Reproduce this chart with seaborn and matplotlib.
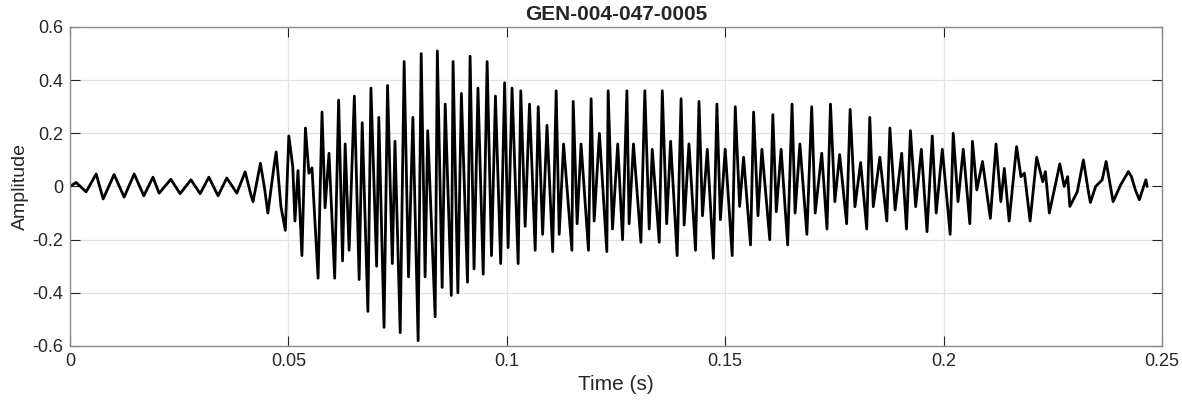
import numpy as np
import pandas as pd
import seaborn as sns
import matplotlib.pyplot as plt

# waveform extrema (time in ms, amplitude)
time_ms = [
    0.0, 1.4, 3.7, 6.0, 7.6, 10.1, 12.4, 14.7, 16.9, 19.0,
    20.4, 23.1, 25.2, 27.7, 29.8, 31.8, 33.9, 35.9, 38.2, 40.1,
    41.4, 41.9, 43.6, 44.6, 45.3, 46.7, 47.2, 48.3, 49.3, 50.1,
    51.0, 51.5, 52.2, 53.1, 53.9, 54.7, 55.4, 56.8, 57.7, 58.4,
    59.3, 60.6, 61.5, 62.4, 63.0, 63.9, 65.1, 66.2, 66.9, 68.2,
    68.9, 70.2, 70.7, 71.9, 72.7, 73.8, 74.4, 75.6, 76.5, 77.5,
    78.5, 79.7, 80.4, 81.3, 81.9, 83.6, 84.1, 85.2, 85.9, 87.3,
    87.7, 88.8, 89.6, 91.0, 91.6, 92.5, 93.4, 94.6, 95.5, 96.5,
    97.4, 98.6, 99.5, 100.3, 101.2, 102.6, 103.2, 104.2, 105.2, 106.5,
    107.2, 108.2, 109.2, 110.5, 111.3, 112.0, 113.0, 114.9, 115.2, 116.1,
    117.0, 118.7, 119.3, 120.0, 121.2, 122.9, 123.2, 124.2, 125.4, 126.5,
    127.5, 128.0, 129.0, 130.7, 131.6, 132.6, 133.3, 134.9, 135.6, 136.6,
    137.5, 139.0, 139.9, 140.6, 141.7, 143.2, 144.0, 144.8, 145.9, 147.3,
    148.1, 148.9, 150.0, 151.6, 152.3, 153.3, 154.2, 155.8, 156.5, 157.5,
    158.4, 160.2, 160.9, 161.7, 162.8, 164.3, 165.3, 166.0, 167.1, 168.7,
    169.8, 170.6, 172.1, 173.3, 174.1, 175.1, 176.2, 177.8, 178.6, 179.7,
    181.0, 182.4, 183.1, 183.9, 185.4, 187.0, 187.7, 188.9, 190.4, 191.5,
    192.4, 193.6, 194.9, 196.2, 197.4, 198.3, 199.7, 201.5, 202.2, 203.3,
    204.5, 206.0, 206.6, 207.6, 208.9, 210.7, 212.0, 213.1, 213.9, 215.0,
    216.7, 217.7, 218.5, 219.8, 221.3, 222.7, 223.3, 224.2, 226.6, 227.6,
    228.4, 228.9, 230.6, 232.0, 233.2, 233.6, 234.8, 236.3, 237.2, 238.8,
    239.8, 240.5, 242.3, 243.0, 243.9, 244.8, 246.3, 246.6,
]
amplitude = [
    0.0, 0.015, -0.02, 0.047, -0.047, 0.045, -0.04, 0.047, -0.035, 0.035,
    -0.025, 0.027, -0.027, 0.025, -0.027, 0.035, -0.035, 0.032, -0.025, 0.055,
    -0.03, -0.057, 0.087, -0.013, -0.10, 0.075, 0.13, -0.076, -0.165, 0.19,
    0.075, -0.13, 0.06, -0.26, 0.22, 0.05, 0.07, -0.345, 0.28, -0.08,
    0.125, -0.345, 0.325, -0.28, 0.16, -0.24, 0.34, -0.35, 0.24, -0.47,
    0.37, -0.30, 0.26, -0.53, 0.38, -0.29, 0.17, -0.55, 0.47, -0.34,
    0.26, -0.58, 0.50, -0.34, 0.21, -0.49, 0.51, -0.38, 0.31, -0.41,
    0.47, -0.40, 0.35, -0.36, 0.49, -0.31, 0.37, -0.33, 0.47, -0.26,
    0.34, -0.29, 0.39, -0.23, 0.37, -0.29, 0.36, -0.15, 0.31, -0.24,
    0.30, -0.18, 0.23, -0.245, 0.36, -0.18, 0.16, -0.24, 0.32, -0.14,
    0.16, -0.24, 0.33, -0.13, 0.20, -0.245, 0.36, -0.16, 0.16, -0.20,
    0.36, -0.14, 0.16, -0.21, 0.36, -0.16, 0.14, -0.21, 0.36, -0.14,
    0.17, -0.26, 0.33, -0.145, 0.16, -0.24, 0.32, -0.11, 0.14, -0.27,
    0.31, -0.125, 0.14, -0.26, 0.30, -0.075, 0.11, -0.22, 0.28, -0.11,
    0.14, -0.20, 0.27, -0.095, 0.14, -0.22, 0.31, -0.10, 0.16, -0.18,
    0.30, -0.10, 0.125, -0.16, 0.31, -0.057, 0.12, -0.14, 0.29, -0.076,
    0.09, -0.16, 0.26, -0.076, 0.11, -0.13, 0.22, -0.088, 0.125, -0.16,
    0.21, -0.076, 0.14, -0.17, 0.19, -0.10, 0.14, -0.18, 0.20, -0.057,
    0.14, -0.14, 0.17, -0.013, 0.094, -0.12, 0.16, -0.057, 0.068, -0.13,
    0.15, 0.037, 0.05, -0.13, 0.11, 0.018, 0.056, -0.10, 0.085, 0.0,
    0.037, -0.075, -0.02, 0.10, -0.025, -0.06, 0.0, 0.025, 0.094, -0.057,
    -0.02, 0.005, 0.056, 0.037, -0.013, -0.05, 0.025, 0.0,
]

x_ticks = [0, 0.05, 0.1, 0.15, 0.2, 0.25]
x_tick_labels = ["0", "0.05", "0.1", "0.15", "0.2", "0.25"]
y_ticks = [-0.6, -0.4, -0.2, 0, 0.2, 0.4, 0.6]
y_tick_labels = ["-0.6", "-0.4", "-0.2", "0", "0.2", "0.4", "0.6"]

df = pd.DataFrame({"time": np.array(time_ms) / 1000.0, "amp": amplitude})

sns.set_style("whitegrid")
plt.rcParams["font.family"] = ["Liberation Sans", "DejaVu Sans"]

fig = plt.figure(figsize=(11.82, 4.04), dpi=100)
ax = fig.add_axes([0.0592, 0.1436, 0.9239, 0.7896])

sns.lineplot(data=df, x="time", y="amp", sort=False, estimator=None,
             color="black", linewidth=2.0, ax=ax)

ax.set_xlim(0, 0.25)
ax.set_ylim(-0.6, 0.6)
ax.set_xticks(x_ticks)
ax.set_xticklabels(x_tick_labels)
ax.set_yticks(y_ticks)
ax.set_yticklabels(y_tick_labels)

ax.grid(True, color="#e3e3e3", linewidth=0.9)
for side in ax.spines.values():
    side.set_color("#8c8c8c")
    side.set_linewidth(1.0)
ax.tick_params(direction="in", length=7, width=0.8, color="#262626",
               labelsize=13, labelcolor="#262626", top=True, right=True,
               bottom=True, left=True, pad=5)

ax.set_xlabel("Time (s)", fontsize=15, color="#262626", labelpad=4)
ax.set_ylabel("Amplitude", fontsize=14, color="#262626", labelpad=2)
ax.set_title("GEN-004-047-0005", fontsize=15, fontweight="bold", pad=5)

fig.savefig("out.png", dpi=100)
